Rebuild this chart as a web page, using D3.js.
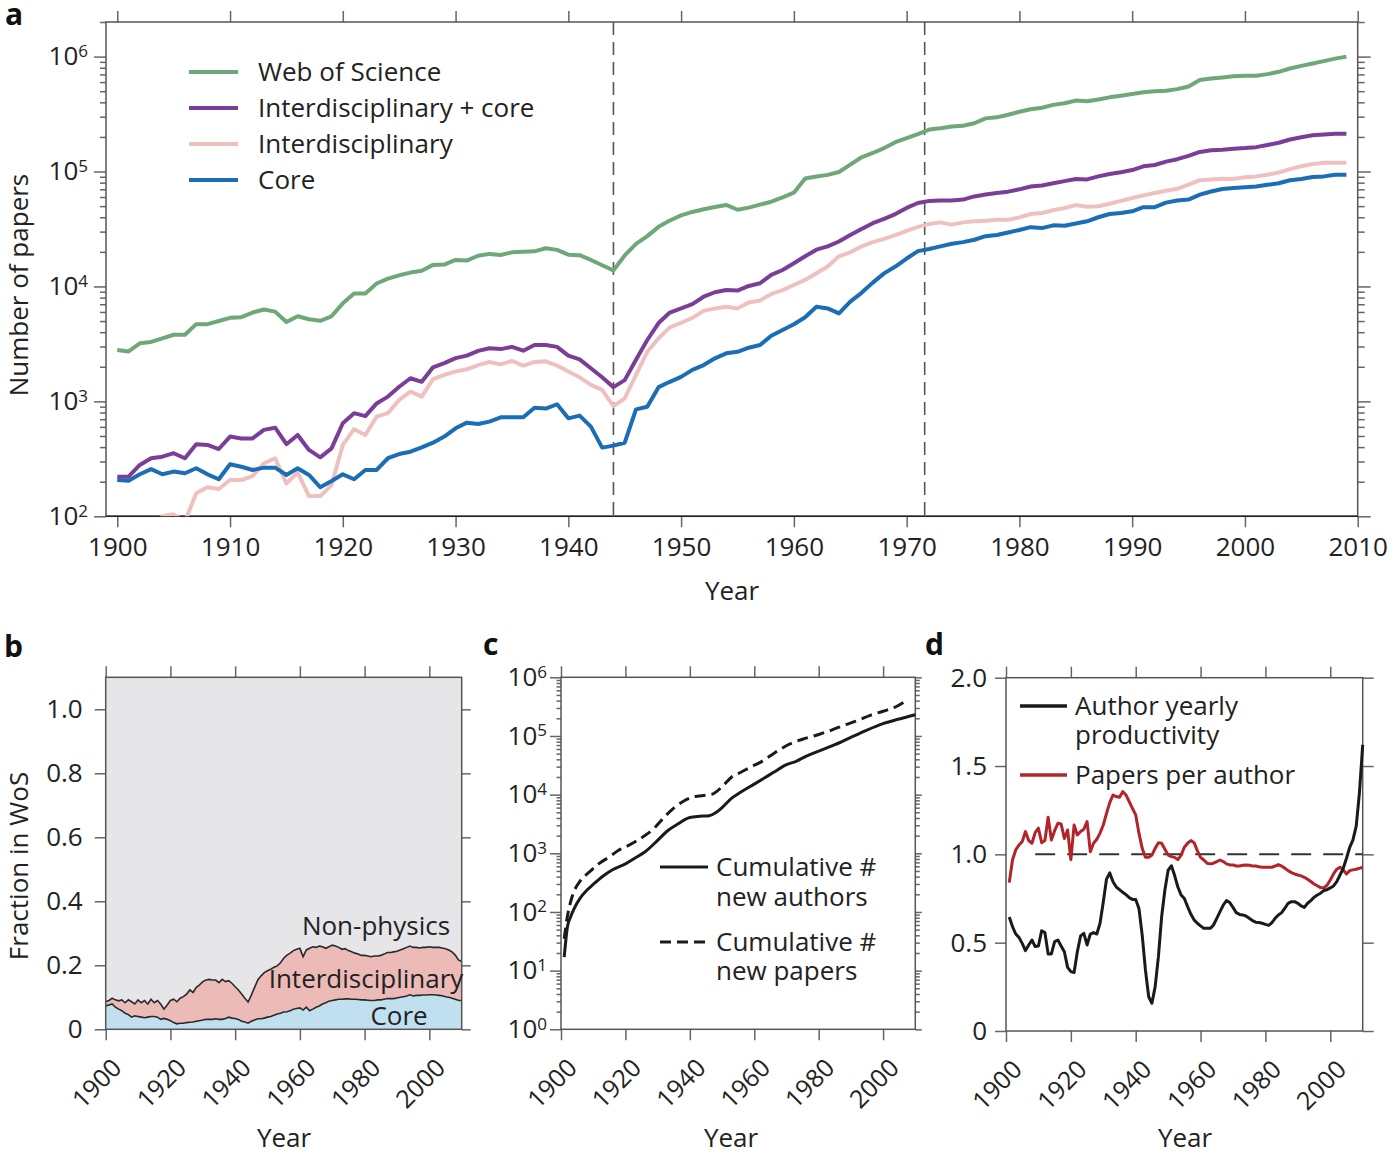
<!DOCTYPE html>
<html>
<head>
<meta charset="utf-8">
<title>Physics papers</title>
<script src="https://cdn.jsdelivr.net/npm/d3@7/dist/d3.min.js"></script>
<style>
  body { margin: 0; background: #fff; }
  svg text { font-family: "Open Sans", "DejaVu Sans", sans-serif; fill: #222; }
  .lbl { font-size: 26px; }
  .pid { font-size: 30px; font-weight: bold; fill: #111; }
</style>
</head>
<body>
<svg id="fig" width="1395" height="1157"></svg>
<script>
// ---------------- data : panel a (papers per year, 1900-2009) ----------------
const aYears = d3.range(1900, 2010);
const aWos = [
  2800, 2720, 3200, 3290, 3540, 3800, 3800, 4700, 4700, 5000,
  5330, 5400, 5930, 6300, 6040, 4900, 5500, 5180, 5020, 5500,
  7130, 8700, 8700, 10600, 11700, 12500, 13200, 13700, 15400, 15500,
  17000, 16800, 18500, 19200, 18800, 19800, 20000, 20200, 21500, 20800,
  18900, 18700, 17000, 15300, 13800, 18600, 23500, 27400, 33000, 37500,
  41500, 44500, 47000, 49100, 51200, 46500, 48500, 51500, 54600, 59500,
  65400, 87000, 90500, 93500, 99000, 115000, 133000, 145000, 160000, 180000,
  195000, 212000, 232000, 238000, 246000, 250000, 263000, 290000, 296000, 312000,
  331000, 348000, 359000, 380000, 393000, 414000, 408000, 424000, 442000, 457000,
  472000, 489000, 499000, 505000, 521000, 550000, 625000, 646000, 659000, 673000,
  682000, 682000, 704000, 737000, 788000, 830000, 872000, 913000, 960000, 1000000
];
const aInterCore = [
  221, 221, 280, 320, 330, 354, 320, 424, 418, 385,
  494, 476, 476, 565, 590, 424, 510, 378, 326, 390,
  645, 790, 745, 960, 1100, 1340, 1590, 1480, 1980, 2150,
  2380, 2500, 2750, 2900, 2850, 2980, 2760, 3090, 3090, 2980,
  2500, 2320, 1940, 1620, 1330, 1530, 2300, 3420, 4800, 5930,
  6430, 7010, 8140, 8900, 9300, 9200, 10100, 10660, 12600, 13900,
  15900, 18300, 20900, 22300, 24600, 28000, 31600, 35500, 38700, 42600,
  48200, 53200, 55500, 56000, 56000, 57000, 60700, 63000, 65000, 66800,
  70000, 74000, 75700, 79000, 82500, 86000, 85400, 90700, 95000, 98500,
  103000, 111000, 114000, 122000, 128000, 137000, 148000, 153000, 155000, 158000,
  160000, 163000, 170000, 178000, 190000, 199000, 207000, 210000, 213000, 213000
];
const aInter = [
  60, 62, 65, 72, 100, 104, 90, 159, 179, 173,
  207, 207, 224, 289, 320, 193, 240, 150, 150, 187,
  418, 573, 510, 736, 790, 1030, 1215, 1100, 1560, 1700,
  1820, 1900, 2070, 2200, 2100, 2250, 2050, 2200, 2230, 2050,
  1820, 1620, 1390, 1260, 910, 1060, 1700, 2700, 3540, 4410,
  4830, 5330, 6130, 6440, 6660, 6440, 7250, 7560, 8600, 9300,
  10300, 11400, 13000, 14900, 18300, 19800, 22300, 24300, 25900, 28000,
  30500, 33000, 35000, 36100, 34500, 36100, 36900, 37300, 38000, 38000,
  39900, 42700, 43600, 46000, 48200, 51000, 49300, 49800, 52500, 55600,
  58800, 62000, 65000, 68000, 70800, 76800, 84000, 85400, 86500, 86300,
  89000, 90700, 93600, 98000, 105000, 111000, 116000, 119000, 119000, 119000
];
const aCore = [
  207, 204, 232, 257, 232, 245, 237, 262, 232, 210,
  284, 270, 253, 265, 265, 229, 262, 229, 179, 203,
  232, 210, 253, 253, 320, 348, 365, 398, 437, 494,
  583, 653, 635, 667, 727, 727, 727, 881, 866, 944,
  712, 752, 603, 396, 412, 437, 851, 899, 1330, 1480,
  1635, 1880, 2070, 2370, 2620, 2700, 2930, 3090, 3720, 4180,
  4690, 5400, 6660, 6440, 5830, 7370, 8800, 10800, 13000, 14900,
  17500, 20300, 21200, 22300, 23500, 24300, 25500, 27400, 28000, 29500,
  31000, 32800, 32200, 34000, 33800, 35300, 36900, 40000, 42700, 43600,
  45100, 49000, 49000, 53600, 56000, 57000, 63000, 67000, 70500, 72000,
  73000, 74000, 76700, 79000, 84000, 86000, 89500, 90700, 93600, 93600
];
const aEventYears = [1944, 1971.6];
const aSeries = [
  {name: "Web of Science", values: aWos, color: "#6ea878"},
  {name: "Interdisciplinary + core", values: aInterCore, color: "#7a3d98"},
  {name: "Interdisciplinary", values: aInter, color: "#efc0c0"},
  {name: "Core", values: aCore, color: "#1b6db5"}
];

// ---------------- data : panel b (fraction of WoS, 1900-2010) ----------------
const bYears = d3.range(1900, 2011);
const bCore = [
  0.073, 0.076, 0.079, 0.069, 0.063, 0.058, 0.050, 0.046, 0.038, 0.042,
  0.040, 0.038, 0.036, 0.038, 0.040, 0.040, 0.038, 0.031, 0.034, 0.031,
  0.027, 0.021, 0.017, 0.019, 0.019, 0.021, 0.022, 0.023, 0.025, 0.027,
  0.029, 0.031, 0.031, 0.031, 0.033, 0.031, 0.031, 0.034, 0.038, 0.035,
  0.034, 0.031, 0.025, 0.023, 0.019, 0.025, 0.029, 0.033, 0.033, 0.035,
  0.038, 0.040, 0.044, 0.048, 0.050, 0.054, 0.055, 0.058, 0.063, 0.065,
  0.067, 0.060, 0.069, 0.058, 0.063, 0.069, 0.073, 0.079, 0.083, 0.088,
  0.090, 0.092, 0.094, 0.094, 0.095, 0.095, 0.094, 0.094, 0.093, 0.092,
  0.092, 0.091, 0.090, 0.090, 0.092, 0.092, 0.094, 0.096, 0.096, 0.096,
  0.098, 0.100, 0.102, 0.104, 0.108, 0.104, 0.106, 0.106, 0.107, 0.107,
  0.108, 0.108, 0.107, 0.106, 0.105, 0.102, 0.100, 0.097, 0.094, 0.091,
  0.089
];
const bInterCore = [
  0.086, 0.090, 0.097, 0.092, 0.089, 0.092, 0.083, 0.092, 0.086, 0.079,
  0.092, 0.083, 0.090, 0.079, 0.094, 0.083, 0.090, 0.079, 0.063, 0.076,
  0.090, 0.094, 0.086, 0.097, 0.102, 0.110, 0.123, 0.115, 0.131, 0.139,
  0.149, 0.154, 0.156, 0.154, 0.154, 0.146, 0.156, 0.149, 0.152, 0.144,
  0.133, 0.123, 0.110, 0.097, 0.085, 0.107, 0.131, 0.154, 0.167, 0.177,
  0.183, 0.188, 0.194, 0.198, 0.208, 0.222, 0.232, 0.238, 0.246, 0.250,
  0.253, 0.227, 0.248, 0.253, 0.258, 0.256, 0.260, 0.258, 0.253, 0.258,
  0.263, 0.260, 0.256, 0.250, 0.252, 0.246, 0.242, 0.238, 0.235, 0.231,
  0.231, 0.229, 0.227, 0.229, 0.229, 0.231, 0.235, 0.240, 0.240, 0.242,
  0.244, 0.248, 0.252, 0.256, 0.260, 0.256, 0.256, 0.254, 0.256, 0.256,
  0.258, 0.256, 0.256, 0.256, 0.254, 0.252, 0.248, 0.242, 0.232, 0.217,
  0.212
];

// ---------------- data : panel c (cumulative counts) ----------------
const cAuthorYears = [1901, 1902, 1903, 1904, 1906, 1908, 1910, 1913, 1916, 1920, 1923, 1926,
  1930, 1933, 1936, 1940, 1943, 1946, 1948, 1950, 1953, 1956, 1960, 1963, 1966, 1970,
  1973, 1976, 1980, 1985, 1990, 1995, 2000, 2005, 2010];
const cAuthors = [17, 56, 83, 112, 174, 234, 295, 407, 525, 660, 830, 1050,
  1660, 2400, 3090, 4070, 4270, 4370, 4900, 6030, 8700, 11200, 15100, 19000, 24000, 32400,
  37000, 45000, 55000, 71000, 95000, 126000, 162000, 195000, 230000];
const cPaperYears = [1901, 1902, 1903, 1904, 1906, 1909, 1912, 1915, 1918, 1920, 1923, 1926,
  1929, 1932, 1935, 1938, 1941, 1945, 1947, 1950, 1953, 1956, 1959, 1962, 1965, 1968,
  1971, 1975, 1980, 1984, 1988, 1992, 1996, 2000, 2004, 2007];
const cPapers = [35, 85, 150, 220, 340, 490, 680, 870, 1140, 1280, 1570, 2000,
  2700, 4100, 5900, 7700, 9100, 9800, 10200, 13600, 20000, 24300, 29800, 35800, 46000, 59000,
  73000, 88000, 106000, 126000, 153000, 183000, 225000, 264000, 315000, 395000];

// ---------------- data : panel d (1901-2010) ----------------
const dYears = d3.range(1901, 2011);
const dPapersPerAuthor = [
  0.840, 0.968, 1.025, 1.053, 1.072, 1.129, 1.078, 1.063, 1.123,
  1.148, 1.066, 1.078, 1.210, 1.081, 1.134, 1.176, 1.172, 1.090, 1.138,
  0.970, 1.166, 1.110, 1.129, 1.142, 1.185, 1.015, 1.063, 1.085, 1.120,
  1.166, 1.232, 1.293, 1.336, 1.327, 1.323, 1.355, 1.336, 1.298, 1.260,
  1.223, 1.120, 1.034, 0.983, 0.983, 0.996, 1.034, 1.066, 1.063, 1.029,
  0.996, 0.987, 0.983, 0.970, 0.996, 1.040, 1.063, 1.078, 1.066, 1.021,
  0.983, 0.968, 0.950, 0.946, 0.950, 0.959, 0.968, 0.959, 0.946, 0.940,
  0.940, 0.934, 0.934, 0.938, 0.940, 0.938, 0.934, 0.934, 0.930, 0.927,
  0.927, 0.927, 0.927, 0.934, 0.942, 0.934, 0.921, 0.908, 0.897, 0.889,
  0.883, 0.878, 0.870, 0.859, 0.846, 0.832, 0.822, 0.812, 0.810, 0.825,
  0.855, 0.889, 0.916, 0.927, 0.912, 0.889, 0.908, 0.912, 0.916, 0.921,
  0.927
];
const dAuthorProductivity = [
  0.645, 0.591, 0.549, 0.530, 0.496, 0.455, 0.487, 0.515, 0.478,
  0.481, 0.568, 0.557, 0.436, 0.436, 0.506, 0.515, 0.481, 0.449, 0.360,
  0.336, 0.331, 0.449, 0.538, 0.553, 0.487, 0.549, 0.557, 0.549, 0.610,
  0.730, 0.860, 0.895, 0.845, 0.815, 0.800, 0.785, 0.772, 0.755, 0.745,
  0.745, 0.694, 0.543, 0.346, 0.194, 0.157, 0.251, 0.421, 0.648, 0.798,
  0.910, 0.935, 0.880, 0.815, 0.770, 0.750, 0.704, 0.662, 0.629, 0.610,
  0.595, 0.581, 0.581, 0.581, 0.600, 0.638, 0.676, 0.713, 0.738, 0.727,
  0.700, 0.670, 0.660, 0.657, 0.651, 0.638, 0.625, 0.616, 0.614, 0.610,
  0.604, 0.598, 0.614, 0.638, 0.657, 0.670, 0.695, 0.723, 0.732, 0.732,
  0.723, 0.708, 0.700, 0.723, 0.738, 0.757, 0.770, 0.780, 0.795, 0.800,
  0.810, 0.821, 0.846, 0.883, 0.921, 0.978, 1.040, 1.082, 1.160, 1.350,
  1.620
];
const dReference = {value: 1, from: 1909};

// ---------------- helpers ----------------
const svg = d3.select("#fig");
const tickCol = "#666", frameCol = "#555";

function minorLog(lo, hi) {
  const out = [];
  for (let e = lo; e < hi; e++) for (let m = 2; m <= 9; m++) out.push(m * Math.pow(10, e));
  return out;
}
function clean(g) {
  g.select(".domain").remove();
  g.selectAll(".tick line").attr("stroke", tickCol).attr("stroke-width", 1.5);
  g.selectAll(".tick text").attr("fill", "#222").style("font-size", "26px");
}
function superscript(g) {
  g.selectAll(".tick text").append("tspan")
    .attr("dy", "-0.5em").style("font-size", "17px")
    .text(d => Math.round(Math.log10(d)));
}
function rotated(g) {
  g.selectAll(".tick text")
    .attr("y", 0).attr("dy", 0)
    .attr("text-anchor", "end")
    .style("font-size", "25px")
    .attr("transform", "translate(17,40) rotate(-45)");
}
function frame(g, x0, y0, x1, y1) {
  g.append("rect").attr("x", x0).attr("y", y0).attr("width", x1 - x0).attr("height", y1 - y0)
    .attr("fill", "none").attr("stroke", frameCol).attr("stroke-width", 1.5);
}
function label(g, text, x, y, opts = {}) {
  const t = g.append("text").attr("class", opts.cls || "lbl").attr("x", x).attr("y", y).text(text);
  if (opts.anchor) t.attr("text-anchor", opts.anchor);
  if (opts.rotate) t.attr("transform", `rotate(-90,${x},${y})`);
  return t;
}
// two-line label kept as one text element
function label2(g, lines, x, y, gap) {
  const t = g.append("text").attr("class", "lbl").attr("x", x).attr("y", y);
  lines.forEach((s, i) => t.append("tspan").attr("x", x).attr("dy", i ? gap : 0).text(s));
  return t;
}

// ================= panel a =================
const ax = d3.scaleLinear().domain([1899, 2010]).range([106, 1357.7]);
const ay = d3.scaleLog().domain([100, 2e6]).range([516.3, 22]);
const ga = svg.append("g");
ga.append("clipPath").attr("id", "clipA").append("rect")
  .attr("x", 106).attr("y", 22).attr("width", 1251.7).attr("height", 494.3);

const aMajor = [1e2, 1e3, 1e4, 1e5, 1e6];
const aMinor = minorLog(2, 6).concat([2e6]);
const aDecades = d3.range(1900, 2011, 10);

ga.append("g").attr("transform", "translate(106,0)")
  .call(d3.axisLeft(ay).tickValues(aMinor).tickSize(6).tickFormat("")).call(clean);
ga.append("g").attr("transform", "translate(106,0)")
  .call(d3.axisLeft(ay).tickValues(aMajor).tickSize(12).tickPadding(6).tickFormat(() => "10"))
  .call(clean).call(superscript);
ga.append("g").attr("transform", "translate(1357.7,0)")
  .call(d3.axisRight(ay).tickValues(aMinor).tickSize(7).tickFormat("")).call(clean);
ga.append("g").attr("transform", "translate(1357.7,0)")
  .call(d3.axisRight(ay).tickValues(aMajor).tickSize(13).tickFormat("")).call(clean);
ga.append("g").attr("transform", "translate(0,22)")
  .call(d3.axisTop(ax).tickValues(aDecades).tickSize(11).tickFormat("")).call(clean);
ga.append("g").attr("transform", "translate(0,516.3)")
  .call(d3.axisBottom(ax).tickValues(aDecades).tickSize(11).tickPadding(10).tickFormat(d3.format("d")))
  .call(clean);
frame(ga, 106, 22, 1357.7, 516.3);
ga.append("line").attr("x1", 106).attr("x2", 1357.7).attr("y1", 516.3).attr("y2", 516.3)
  .attr("stroke", "#222").attr("stroke-width", 1.5);

ga.selectAll("line.event").data(aEventYears).join("line").attr("class", "event")
  .attr("x1", d => ax(d)).attr("x2", d => ax(d)).attr("y1", 22).attr("y2", 516.3)
  .attr("stroke", "#555").attr("stroke-width", 1.6).attr("stroke-dasharray", "13,7");

const aLine = vals => d3.line().x((d, i) => ax(aYears[i])).y(d => ay(d))(vals);
const aDrawOrder = [0, 2, 1, 3];
ga.append("g").attr("clip-path", "url(#clipA)")
  .selectAll("path").data(aDrawOrder.map(i => aSeries[i])).join("path")
  .attr("d", s => aLine(s.values)).attr("fill", "none")
  .attr("stroke", s => s.color).attr("stroke-width", 4).attr("stroke-linejoin", "round");

const aLeg = ga.append("g");
aSeries.forEach((s, i) => {
  const y = 72 + i * 36;
  aLeg.append("line").attr("x1", 189).attr("x2", 238).attr("y1", y).attr("y2", y)
    .attr("stroke", s.color).attr("stroke-width", 4);
  label(aLeg, s.name, 258, y + 9);
});
label(ga, "Number of papers", 28, 285, {anchor: "middle", rotate: true});
label(ga, "Year", 732, 600, {anchor: "middle"});
label(ga, "a", 5, 25, {cls: "pid"});

// ================= panel b =================
const bx = d3.scaleLinear().domain([1900, 2010]).range([105.7, 461.7]);
const by = d3.scaleLinear().domain([0, 1.1]).range([1029.3, 677.3]);
const gb = svg.append("g");
const bTicksX = d3.range(1900, 2001, 20);
const bTicksY = [0, 0.2, 0.4, 0.6, 0.8, 1.0];

gb.append("rect").attr("x", 105.7).attr("y", 677.3).attr("width", 356).attr("height", 352)
  .attr("fill", "#e6e6e9");
const bArea = vals => d3.area().x((d, i) => bx(bYears[i])).y0(by(0)).y1(d => by(d))(vals);
const bLine = vals => d3.line().x((d, i) => bx(bYears[i])).y(d => by(d))(vals);
gb.append("path").attr("d", bArea(bInterCore)).attr("fill", "#ecbab7");
gb.append("path").attr("d", bArea(bCore)).attr("fill", "#c0e0ef");
[bInterCore, bCore].forEach(v => gb.append("path").attr("d", bLine(v))
  .attr("fill", "none").attr("stroke", "#2a2a2a").attr("stroke-width", 1.6));

gb.append("g").attr("transform", "translate(105.7,0)")
  .call(d3.axisLeft(by).tickValues(bTicksY).tickSize(11).tickPadding(12)
    .tickFormat(d => d === 0 ? "0" : d3.format(".1f")(d))).call(clean);
gb.append("g").attr("transform", "translate(461.7,0)")
  .call(d3.axisRight(by).tickValues(bTicksY).tickSize(9).tickFormat("")).call(clean);
gb.append("g").attr("transform", "translate(0,677.3)")
  .call(d3.axisTop(bx).tickValues(bTicksX).tickSize(11).tickFormat("")).call(clean);
gb.append("g").attr("transform", "translate(0,1029.3)")
  .call(d3.axisBottom(bx).tickValues(bTicksX).tickSize(11).tickFormat(d3.format("d")))
  .call(clean).call(rotated);
frame(gb, 105.7, 677.3, 461.7, 1029.3);
label(gb, "Non-physics", 376, 935, {anchor: "middle"});
label(gb, "Interdisciplinary", 366, 988, {anchor: "middle"});
label(gb, "Core", 399, 1025, {anchor: "middle"});
label(gb, "Fraction in WoS", 28, 866, {anchor: "middle", rotate: true});
label(gb, "Year", 284, 1147, {anchor: "middle"});
label(gb, "b", 4, 657, {cls: "pid"});

// ================= panel c =================
const cx = d3.scaleLinear().domain([1900, 2010]).range([561, 915.3]);
const cy = d3.scaleLog().domain([1, 1e6]).range([1029.3, 677.3]);
const gc = svg.append("g");
const cMajor = [1, 10, 100, 1e3, 1e4, 1e5, 1e6];
const cMinor = minorLog(0, 6);

gc.append("g").attr("transform", "translate(561,0)")
  .call(d3.axisLeft(cy).tickValues(cMinor).tickSize(4.5).tickFormat("")).call(clean);
gc.append("g").attr("transform", "translate(561,0)")
  .call(d3.axisLeft(cy).tickValues(cMajor).tickSize(11).tickPadding(3).tickFormat(() => "10"))
  .call(clean).call(superscript);
gc.append("g").attr("transform", "translate(915.3,0)")
  .call(d3.axisRight(cy).tickValues(cMinor).tickSize(4.5).tickFormat("")).call(clean);
gc.append("g").attr("transform", "translate(915.3,0)")
  .call(d3.axisRight(cy).tickValues(cMajor).tickSize(6.5).tickFormat("")).call(clean);
gc.append("g").attr("transform", "translate(0,677.3)")
  .call(d3.axisTop(cx).tickValues(bTicksX).tickSize(11).tickFormat("")).call(clean);
gc.append("g").attr("transform", "translate(0,1029.3)")
  .call(d3.axisBottom(cx).tickValues(bTicksX).tickSize(11).tickFormat(d3.format("d")))
  .call(clean).call(rotated);
frame(gc, 561, 677.3, 915.3, 1029.3);

const cLine = (yrs, vals) => d3.line().curve(d3.curveMonotoneX)
  .x((d, i) => cx(yrs[i])).y(d => cy(d))(vals);
gc.append("path").attr("d", cLine(cPaperYears, cPapers)).attr("fill", "none")
  .attr("stroke", "#1a1a1a").attr("stroke-width", 3).attr("stroke-dasharray", "11,6");
gc.append("path").attr("d", cLine(cAuthorYears, cAuthors)).attr("fill", "none")
  .attr("stroke", "#1a1a1a").attr("stroke-width", 3);

gc.append("line").attr("x1", 660).attr("x2", 708).attr("y1", 867).attr("y2", 867)
  .attr("stroke", "#1a1a1a").attr("stroke-width", 3);
gc.append("line").attr("x1", 660).attr("x2", 706).attr("y1", 942).attr("y2", 942)
  .attr("stroke", "#1a1a1a").attr("stroke-width", 3).attr("stroke-dasharray", "11,6");
label2(gc, ["Cumulative #", "new authors"], 716, 876, 30);
label2(gc, ["Cumulative #", "new papers"], 716, 951, 29);
label(gc, "Year", 731, 1147, {anchor: "middle"});
label(gc, "c", 483, 655, {cls: "pid"});

// ================= panel d =================
const dx = d3.scaleLinear().domain([1900, 2010]).range([1006, 1362.7]);
const dy = d3.scaleLinear().domain([0, 2]).range([1031, 677.7]);
const gd = svg.append("g");
const dTicksY = [0, 0.5, 1, 1.5, 2];

gd.append("g").attr("transform", "translate(1006,0)")
  .call(d3.axisLeft(dy).tickValues(dTicksY).tickSize(11).tickPadding(8)
    .tickFormat(d => d === 0 ? "0" : d3.format(".1f")(d))).call(clean);
gd.append("g").attr("transform", "translate(1362.7,0)")
  .call(d3.axisRight(dy).tickValues(dTicksY).tickSize(11).tickFormat("")).call(clean);
gd.append("g").attr("transform", "translate(0,677.7)")
  .call(d3.axisTop(dx).tickValues(bTicksX).tickSize(11).tickFormat("")).call(clean);
gd.append("g").attr("transform", "translate(0,1031)")
  .call(d3.axisBottom(dx).tickValues(bTicksX).tickSize(11).tickFormat(d3.format("d")))
  .call(clean).call(rotated);
frame(gd, 1006, 677.7, 1362.7, 1031);

gd.append("line").attr("x1", dx(dReference.from)).attr("x2", 1362.7)
  .attr("y1", dy(dReference.value)).attr("y2", dy(dReference.value))
  .attr("stroke", "#333").attr("stroke-width", 2).attr("stroke-dasharray", "20,12");
const dLine = vals => d3.line().x((d, i) => dx(dYears[i])).y(d => dy(d))(vals);
gd.append("path").attr("d", dLine(dPapersPerAuthor)).attr("fill", "none")
  .attr("stroke", "#b3242a").attr("stroke-width", 3).attr("stroke-linejoin", "round");
gd.append("path").attr("d", dLine(dAuthorProductivity)).attr("fill", "none")
  .attr("stroke", "#1a1a1a").attr("stroke-width", 3).attr("stroke-linejoin", "round");

gd.append("line").attr("x1", 1020).attr("x2", 1067).attr("y1", 706).attr("y2", 706)
  .attr("stroke", "#1a1a1a").attr("stroke-width", 3.5);
gd.append("line").attr("x1", 1020).attr("x2", 1067).attr("y1", 775).attr("y2", 775)
  .attr("stroke", "#b3242a").attr("stroke-width", 3.5);
label2(gd, ["Author yearly", "productivity"], 1075, 715, 29);
label(gd, "Papers per author", 1075, 784);
label(gd, "Year", 1185, 1147, {anchor: "middle"});
label(gd, "d", 925, 655, {cls: "pid"});
</script>
</body>
</html>
